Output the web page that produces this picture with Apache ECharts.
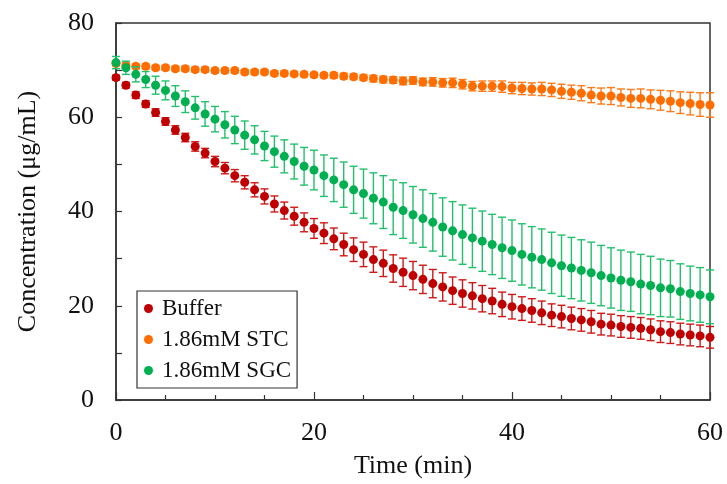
<!DOCTYPE html>
<html>
<head>
<meta charset="utf-8">
<script src="https://cdn.jsdelivr.net/npm/echarts@6/dist/echarts.min.js"></script>
<style>html,body{margin:0;padding:0;background:#fff;}#c{width:727px;height:484px;}</style>
</head>
<body>
<div id="c"></div>
<script>
var time = [];
for (var i = 0; i <= 60; i++) time.push(i);

var seriesNames = ['Buffer', '1.86mM STC', '1.86mM SGC'];
var buffer = [68.4,66.8,64.7,62.8,61.0,59.1,57.3,55.7,53.8,52.4,
  50.6,49.2,47.6,46.2,44.6,43.2,41.6,40.2,39.0,37.7,
  36.4,35.4,34.2,33.0,31.9,30.9,29.8,29.0,27.9,27.1,
  26.4,25.6,24.7,24.0,23.2,22.6,22.1,21.5,21.0,20.3,
  19.8,19.4,19.0,18.5,18.0,17.7,17.3,17.0,16.6,16.1,
  15.9,15.6,15.4,15.2,14.9,14.5,14.3,14.0,13.8,13.6,13.3];
var bufferSD = [0.5,0.6,0.7,0.7,0.8,0.8,0.9,0.9,1.0,1.0,
  1.1,1.2,1.3,1.4,1.5,1.6,1.7,1.8,1.9,2.0,
  2.1,2.2,2.3,2.4,2.5,2.6,2.7,2.8,2.9,3.0,
  3.0,3.0,3.0,3.0,2.9,2.9,2.8,2.8,2.7,2.6,
  2.6,2.5,2.5,2.5,2.4,2.4,2.4,2.4,2.4,2.3,
  2.3,2.3,2.3,2.3,2.3,2.3,2.3,2.3,2.3,2.3,2.3];
var stc = [71.4,71.0,70.8,70.8,70.5,70.5,70.3,70.3,70.1,70.1,
  69.9,69.9,69.9,69.6,69.6,69.6,69.3,69.3,69.2,69.1,
  69.0,68.9,68.9,68.7,68.6,68.4,68.2,68.0,67.9,67.7,
  67.8,67.5,67.5,67.3,67.3,67.0,66.6,66.6,66.6,66.5,
  66.2,66.1,66.0,66.0,65.8,65.5,65.3,65.1,64.7,64.5,
  64.5,64.2,64.0,64.0,63.8,63.6,63.4,63.1,62.9,62.7,62.6];
var stcSD = [0.5,0.5,0.5,0.5,0.5,0.5,0.5,0.5,0.5,0.5,
  0.5,0.5,0.5,0.5,0.5,0.5,0.5,0.5,0.5,0.5,
  0.5,0.5,0.6,0.6,0.6,0.6,0.7,0.7,0.7,0.8,
  0.8,0.8,0.9,0.9,1.0,1.0,1.0,1.1,1.1,1.2,
  1.2,1.3,1.3,1.4,1.4,1.5,1.5,1.6,1.6,1.7,
  1.8,1.8,1.9,2.0,2.0,2.1,2.2,2.3,2.4,2.5,2.6];
var sgc = [71.6,70.5,69.1,68.0,66.8,65.7,64.5,63.3,62.0,60.7,
  59.6,58.4,57.3,56.2,55.2,53.9,52.7,51.7,50.6,49.6,
  48.8,47.6,46.7,45.7,44.6,43.8,42.8,42.0,40.9,40.2,
  39.3,38.5,37.7,36.7,35.9,35.1,34.4,33.7,33.0,32.3,
  31.7,30.9,30.3,29.8,29.1,28.5,28.0,27.5,27.0,26.4,
  25.9,25.4,25.1,24.6,24.3,23.8,23.6,23.0,22.6,22.3,21.9];
var sgcSD = [1.3,1.4,1.6,1.7,1.9,2.0,2.2,2.3,2.4,2.6,
  2.7,2.8,2.9,3.0,3.0,3.1,3.3,3.5,3.7,4.0,
  4.2,4.4,4.6,4.8,5.0,5.2,5.4,5.6,5.8,5.9,
  6.0,6.1,6.1,6.2,6.2,6.3,6.3,6.4,6.4,6.5,
  6.5,6.5,6.5,6.5,6.5,6.5,6.5,6.5,6.5,6.4,
  6.4,6.4,6.3,6.3,6.2,6.1,6.0,5.9,5.8,5.8,5.7];

var xTicks = [0, 20, 40, 60];
var yTicks = [0, 20, 40, 60, 80];

var colors = ['#C00000', '#FF6D00', '#00B050'];
var barColors = ['#D01818', '#FF7A1A', '#22C06C'];

function pts(vals) { return time.map(function (t, i) { return [t, vals[i]]; }); }
function errPts(vals, sd) { return time.map(function (t, i) { return [t, vals[i], sd[i]]; }); }
function errRender(color) {
  return function (params, api) {
    var x = api.value(0), y = api.value(1), e = api.value(2);
    var top = api.coord([x, y + e]);
    var bot = api.coord([x, y - e]);
    var hw = 4;
    var st = { stroke: color, lineWidth: 1.4 };
    return {
      type: 'group',
      children: [
        { type: 'line', shape: { x1: top[0], y1: top[1], x2: bot[0], y2: bot[1] }, style: st },
        { type: 'line', shape: { x1: top[0] - hw, y1: top[1], x2: top[0] + hw, y2: top[1] }, style: st },
        { type: 'line', shape: { x1: bot[0] - hw, y1: bot[1], x2: bot[0] + hw, y2: bot[1] }, style: st }
      ]
    };
  };
}

var allVals = [buffer, stc, sgc];
var allSD = [bufferSD, stcSD, sgcSD];
var series = [];
for (var k = 0; k < 3; k++) {
  series.push({
    type: 'custom', name: 'err' + k, renderItem: errRender(barColors[k]),
    data: errPts(allVals[k], allSD[k]), encode: { x: 0, y: 1 }, silent: true, z: 2 + k * 2
  });
  series.push({
    type: 'scatter', name: seriesNames[k], data: pts(allVals[k]),
    symbol: 'circle', symbolSize: 9, itemStyle: { color: colors[k], opacity: 1 }, z: 3 + k * 2
  });
}

var font = 'Liberation Serif, Times New Roman, serif';
var axisCol = '#333';
var chart = echarts.init(document.getElementById('c'), null, { renderer: 'canvas' });
chart.setOption({
  animation: false,
  backgroundColor: '#fff',
  grid: { left: 116, right: 17, top: 23, bottom: 83, show: true, borderColor: axisCol, borderWidth: 1.5 },
  legend: {
    data: seriesNames.map(function (n) { return { name: n, icon: 'circle' }; }),
    orient: 'vertical', left: 137, top: 291,
    itemWidth: 9, itemHeight: 9, itemGap: 8,
    padding: [6, 6, 6, 7],
    borderColor: '#333', borderWidth: 1.2, backgroundColor: '#fff',
    textStyle: { fontFamily: font, fontSize: 23, color: '#111', padding: [0, 0, 0, 4] }
  },
  xAxis: {
    type: 'value', min: 0, max: 60, interval: 20,
    name: 'Time (min)', nameLocation: 'middle', nameGap: 53,
    nameTextStyle: { fontFamily: font, fontSize: 26, color: '#111' },
    axisLine: { lineStyle: { color: axisCol, width: 1.5 } },
    axisTick: { inside: true, length: 8, lineStyle: { color: axisCol, width: 1.2 } },
    minorTick: { show: true, splitNumber: 4, length: 5, lineStyle: { color: axisCol, width: 1.2 } },
    axisLabel: { fontFamily: font, fontSize: 26, color: '#111', margin: 20,
      formatter: function (v) { return xTicks.indexOf(v) >= 0 ? String(v) : ''; } },
    splitLine: { show: false }
  },
  yAxis: {
    type: 'value', min: 0, max: 80, interval: 20,
    name: 'Concentration (μg/mL)', nameLocation: 'middle', nameGap: 75, nameRotate: 90,
    nameTextStyle: { fontFamily: font, fontSize: 26, color: '#111' },
    axisLine: { lineStyle: { color: axisCol, width: 1.5 } },
    axisTick: { inside: true, length: 6, lineStyle: { color: axisCol, width: 1.2 } },
    minorTick: { show: true, splitNumber: 2, length: 6, lineStyle: { color: axisCol, width: 1.2 } },
    axisLabel: { fontFamily: font, fontSize: 26, color: '#111', margin: 22,
      formatter: function (v) { return yTicks.indexOf(v) >= 0 ? String(v) : ''; } },
    splitLine: { show: false }
  },
  series: series
});
</script>
</body>
</html>
